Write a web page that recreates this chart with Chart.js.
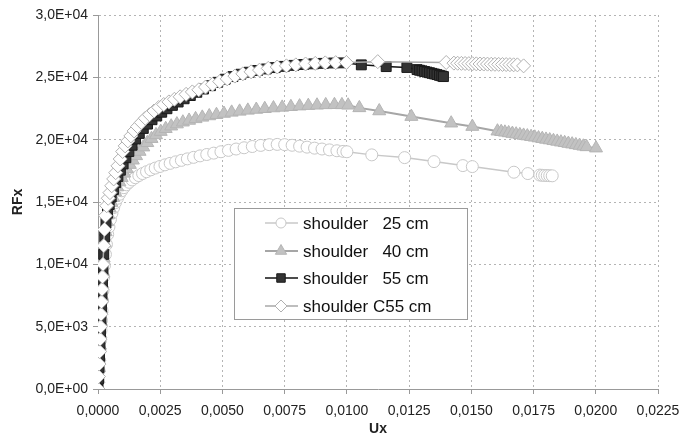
<!DOCTYPE html>
<html>
<head>
<meta charset="utf-8">
<script src="https://cdn.jsdelivr.net/npm/chart.js@4/dist/chart.umd.min.js"></script>
<style>
  body { margin: 0; background: #fff; }
  canvas { display: block; }
</style>
</head>
<body>
<canvas id="chart" width="681" height="444" style="width:681px;height:444px"></canvas>
<script>
// shoulder 25 cm
const s25x = [0, 0.00002, 0.00004, 0.00006, 0.00008, 0.00010, 0.00012, 0.00014, 0.00016, 0.00018, 0.00020,
  0.00023, 0.00026, 0.00030, 0.00034, 0.00039, 0.00044, 0.00050, 0.00056, 0.00063, 0.00070, 0.00078,
  0.00086, 0.00095, 0.00104, 0.00114, 0.00125, 0.00137, 0.00150, 0.00164, 0.00179, 0.00195, 0.00212,
  0.00230, 0.00249, 0.00269, 0.00290, 0.00312, 0.00335, 0.00359, 0.00384, 0.00410, 0.00437, 0.00465,
  0.00494, 0.00524, 0.00555, 0.00587, 0.00620, 0.00654, 0.00688, 0.00720, 0.00750, 0.00780, 0.00810,
  0.00840, 0.00870, 0.00900, 0.00930, 0.00960, 0.00985, 0.01000, 0.01100, 0.01232, 0.01350, 0.01466,
  0.01504, 0.01671, 0.01727, 0.01775, 0.01785, 0.01795, 0.01805, 0.01815, 0.01825];
const s25y = [0, 700, 1500, 2300, 3100, 3900, 4700, 5500, 6300, 7100, 7900,
  9000, 9900, 10800, 11600, 12400, 13000, 13600, 14100, 14550, 14950, 15300,
  15620, 15900, 16150, 16380, 16580, 16770, 16950, 17120, 17280, 17430, 17580,
  17720, 17850, 17980, 18100, 18220, 18340, 18460, 18580, 18700, 18810, 18920,
  19030, 19140, 19250, 19350, 19450, 19540, 19600, 19620, 19600, 19550, 19480,
  19400, 19320, 19250, 19180, 19110, 19060, 19030, 18780, 18560, 18240, 17920,
  17840, 17390, 17280, 17160, 17140, 17130, 17120, 17110, 17100];

// shoulder 40 cm
const s40x = [0, 0.00002, 0.00004, 0.00006, 0.00008, 0.00010, 0.00012, 0.00014, 0.00016, 0.00018, 0.00020,
  0.00023, 0.00027, 0.00031, 0.00036, 0.00041, 0.00047, 0.00054, 0.00061, 0.00069, 0.00077, 0.00086,
  0.00095, 0.00105, 0.00116, 0.00128, 0.00140, 0.00153, 0.00167, 0.00182, 0.00198, 0.00215, 0.00233,
  0.00252, 0.00272, 0.00294, 0.00317, 0.00341, 0.00366, 0.00392, 0.00419, 0.00447, 0.00476, 0.00506,
  0.00537, 0.00569, 0.00602, 0.00636, 0.00670, 0.00705, 0.00740, 0.00775, 0.00810, 0.00845, 0.00880,
  0.00915, 0.00950, 0.00980, 0.01005, 0.01050, 0.01130, 0.01259, 0.01419, 0.01504, 0.01605, 0.01620,
  0.01635, 0.01650, 0.01665, 0.01680, 0.01695, 0.01710, 0.01725, 0.01740, 0.01755, 0.01770, 0.01785,
  0.01800, 0.01815, 0.01830, 0.01845, 0.01860, 0.01875, 0.01890, 0.01905, 0.01920, 0.01935, 0.01950,
  0.01963, 0.02001];
const s40y = [0, 800, 1700, 2600, 3500, 4400, 5400, 6400, 7400, 8400, 9300,
  10500, 11700, 12600, 13400, 14000, 14500, 14950, 15350, 15800, 16200, 16600,
  16950, 17300, 17650, 18000, 18350, 18700, 19050, 19400, 19750, 20080, 20380,
  20650, 20880, 21080, 21250, 21400, 21540, 21670, 21790, 21900, 22000, 22100,
  22190, 22270, 22350, 22420, 22480, 22540, 22590, 22640, 22690, 22730, 22760,
  22790, 22800, 22790, 22760, 22550, 22300, 21850, 21320, 21050, 20680, 20640,
  20590, 20540, 20490, 20440, 20390, 20340, 20290, 20240, 20190, 20130, 20080,
  20020, 19970, 19910, 19860, 19800, 19750, 19690, 19640, 19580, 19530, 19470,
  19420, 19320];

// shoulder 55 cm
const s55x = [0, 0.00002, 0.00004, 0.00006, 0.00008, 0.00010, 0.00012, 0.00014, 0.00016, 0.00018, 0.00020,
  0.00023, 0.00027, 0.00032, 0.00038, 0.00045, 0.00053, 0.00062, 0.00071, 0.00080, 0.00090, 0.00101,
  0.00112, 0.00124, 0.00137, 0.00151, 0.00166, 0.00182, 0.00199, 0.00217, 0.00236, 0.00256, 0.00277,
  0.00299, 0.00322, 0.00346, 0.00371, 0.00397, 0.00424, 0.00452, 0.00481, 0.00511, 0.00542, 0.00574,
  0.00607, 0.00641, 0.00676, 0.00712, 0.00749, 0.00787, 0.00826, 0.00866, 0.00906, 0.00946, 0.00985,
  0.01058, 0.01158, 0.01241, 0.01282, 0.01292, 0.01302, 0.01312, 0.01322, 0.01332, 0.01342, 0.01352,
  0.01362, 0.01372, 0.01381, 0.01388];
const s55y = [0, 800, 1700, 2600, 3500, 4500, 5500, 6500, 7500, 8500, 9500,
  10800, 12200, 13300, 14100, 14800, 15400, 16000, 16550, 17050, 17550, 18050,
  18550, 19050, 19550, 20050, 20500, 20900, 21250, 21600, 21900, 22200, 22480,
  22750, 23020, 23280, 23540, 23800, 24060, 24330, 24600, 24850, 25060, 25250,
  25410, 25550, 25670, 25780, 25880, 25960, 26030, 26080, 26120, 26150, 26160,
  26000, 25860, 25790, 25620, 25570, 25520, 25470, 25420, 25370, 25320, 25270,
  25220, 25160, 25110, 25060];

// shoulder C55 cm
const c55x = [0, 0.00002, 0.00004, 0.00006, 0.00008, 0.00010, 0.00012, 0.00014, 0.00016, 0.00018, 0.00020,
  0.00023, 0.00026, 0.00030, 0.00035, 0.00041, 0.00048, 0.00055, 0.00063, 0.00071, 0.00080, 0.00089,
  0.00099, 0.00109, 0.00120, 0.00132, 0.00145, 0.00159, 0.00174, 0.00190, 0.00207, 0.00225, 0.00244,
  0.00264, 0.00285, 0.00307, 0.00330, 0.00354, 0.00379, 0.00405, 0.00432, 0.00460, 0.00489, 0.00519,
  0.00550, 0.00582, 0.00615, 0.00649, 0.00684, 0.00720, 0.00757, 0.00795, 0.00834, 0.00873, 0.00913,
  0.00955, 0.00998, 0.01124, 0.01399, 0.01430, 0.01445, 0.01460, 0.01475, 0.01490, 0.01505, 0.01520,
  0.01535, 0.01550, 0.01565, 0.01580, 0.01595, 0.01610, 0.01625, 0.01640, 0.01655, 0.01670, 0.01685,
  0.01710];
const c55y = [0, 1000, 2000, 3000, 4000, 5000, 6000, 7000, 8000, 9000, 10000,
  11500, 12800, 13900, 14700, 15300, 15750, 16300, 16850, 17350, 17900, 18450,
  19050, 19500, 19900, 20300, 20700, 21050, 21380, 21720, 22000, 22300, 22580,
  22820, 23030, 23240, 23440, 23640, 23830, 24000, 24220, 24440, 24660, 24880,
  25100, 25280, 25440, 25580, 25720, 25830, 25920, 26000, 26070, 26120, 26160,
  26180, 26190, 26260, 26190, 26140, 26130, 26120, 26110, 26100, 26090, 26080,
  26070, 26065, 26060, 26050, 26045, 26040, 26030, 26025, 26015, 26005, 26000,
  25920];

const seriesNames = ['shoulder   25 cm', 'shoulder   40 cm', 'shoulder   55 cm', 'shoulder C55 cm'];

const pts = (xs, ys) => xs.map((x, i) => ({ x: x, y: ys[i] }));

const styles = [
  { pointStyle: 'circle', radius: 6, fill: '#ffffff', border: '#c8c8c8', line: '#c8c8c8', lineWidth: 1.5 },
  { pointStyle: 'triangle', radius: 7.5, fill: '#c2c2c2', border: '#b4b4b4', line: '#a6a6a6', lineWidth: 2 },
  { pointStyle: 'rect', radius: 7, fill: '#333333', border: '#1a1a1a', line: '#111111', lineWidth: 1.5 },
  { pointStyle: 'rectRot', radius: 7, fill: '#ffffff', border: '#b0b0b0', line: '#a8a8a8', lineWidth: 1.5 }
];

const allData = [pts(s25x, s25y), pts(s40x, s40y), pts(s55x, s55y), pts(c55x, c55y)];

const datasets = allData.map((d, i) => ({
  label: seriesNames[i],
  data: d,
  showLine: true,
  borderColor: styles[i].line,
  borderWidth: styles[i].lineWidth,
  pointStyle: styles[i].pointStyle,
  pointRadius: styles[i].radius,
  pointBackgroundColor: styles[i].fill,
  pointBorderColor: styles[i].border,
  pointBorderWidth: 1,
  order: 4 - i
}));

// formato 3,0E+04
function sciLabel(v) {
  if (Math.abs(v) < 1e-9) return '0,0E+00';
  const e = Math.floor(Math.log10(Math.abs(v)) + 1e-9);
  const m = v / Math.pow(10, e);
  return m.toFixed(1).replace('.', ',') + 'E+' + String(e).padStart(2, '0');
}

// legenda dentro do gráfico
const boxLegend = {
  id: 'boxLegend',
  afterDraw(chart) {
    const ctx = chart.ctx;
    const bx = 234, by = 208, bw = 233, bh = 111;
    ctx.save();
    ctx.fillStyle = '#ffffff';
    ctx.fillRect(bx, by, bw, bh);
    ctx.strokeStyle = '#9a9a9a';
    ctx.lineWidth = 1;
    ctx.strokeRect(bx + 0.5, by + 0.5, bw, bh);
    const rows = [223, 251, 278, 306];
    styles.forEach((s, i) => {
      const y = rows[i];
      ctx.strokeStyle = s.line;
      ctx.lineWidth = s.lineWidth;
      ctx.beginPath();
      ctx.moveTo(265, y);
      ctx.lineTo(298, y);
      ctx.stroke();
      ctx.fillStyle = s.fill;
      ctx.strokeStyle = s.border;
      ctx.lineWidth = 1;
      Chart.helpers.drawPoint(ctx, { pointStyle: s.pointStyle, radius: s.radius - 1, rotation: 0, borderWidth: 1 }, 281, y);
      ctx.fillStyle = '#111111';
      ctx.font = '17px "Liberation Sans", Arial, sans-serif';
      ctx.textBaseline = 'middle';
      ctx.textAlign = 'left';
      ctx.fillText(seriesNames[i], 303, y + 1);
    });
    ctx.restore();
  }
};

const tickFont = { family: '"Liberation Sans", Arial, sans-serif', size: 14 };
const titleFont = { family: '"Liberation Sans", Arial, sans-serif', size: 14, weight: 'bold' };

const chart = new Chart(document.getElementById('chart'), {
  type: 'scatter',
  data: { datasets: datasets },
  options: {
    responsive: false,
    animation: false,
    layout: { padding: { top: 15, right: 23, left: 0, bottom: 0 } },
    plugins: {
      legend: { display: false },
      tooltip: { enabled: false }
    },
    scales: {
      x: {
        type: 'linear',
        min: 0,
        max: 0.0225,
        ticks: {
          stepSize: 0.0025,
          color: '#222',
          font: tickFont,
          padding: 9,
          maxRotation: 0,
          callback: v => v.toFixed(4).replace('.', ',')
        },
        grid: { color: '#b4b4b4', tickColor: '#999', tickLength: 5 },
        border: { color: '#999', dash: [2, 3] },
        title: { display: true, text: 'Ux', color: '#222', font: titleFont, padding: { top: 0, bottom: 6 } },
        afterFit: s => { s.height = 55; s.paddingLeft = 0; s.paddingRight = 0; }
      },
      y: {
        type: 'linear',
        min: 0,
        max: 30000,
        ticks: {
          stepSize: 5000,
          color: '#222',
          font: tickFont,
          padding: 5,
          callback: v => sciLabel(v)
        },
        grid: { color: '#b4b4b4', tickColor: '#999', tickLength: 5 },
        border: { color: '#999', dash: [2, 3] },
        title: { display: true, text: 'RFx', color: '#222', font: titleFont, padding: { top: 10, bottom: 0 } },
        afterFit: s => { s.width = 98; s.paddingTop = 0; s.paddingBottom = 0; }
      }
    }
  },
  plugins: [boxLegend]
});
</script>
</body>
</html>
